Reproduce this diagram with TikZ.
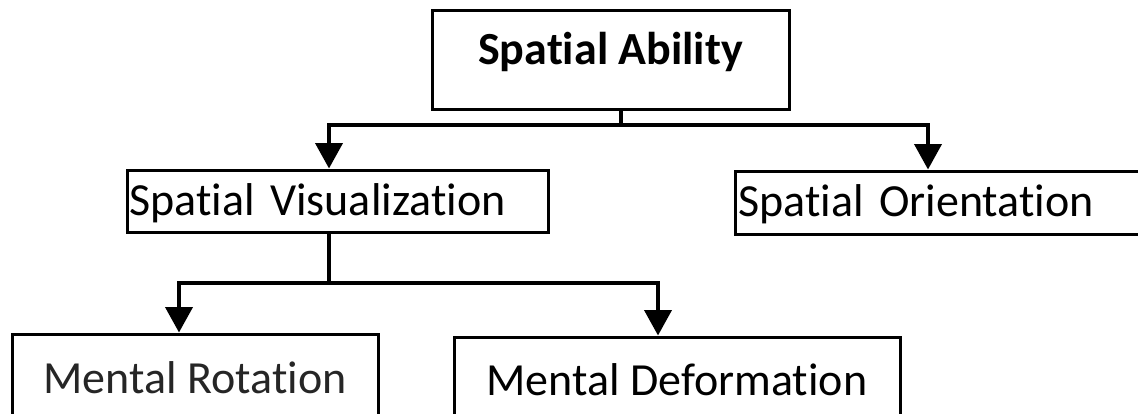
\documentclass[tikz,border=0pt]{standalone}
\usepackage{fontspec}
\setmainfont{Carlito}[Ligatures={NoCommon,NoRare,NoDiscretionary}]
\usetikzlibrary{arrows.meta}
\tikzset{
  box/.style={draw=black, line width=3pt, rectangle, inner ysep=0pt, inner xsep=0pt,
    font=\fontsize{46}{55}\selectfont, text height=29.6pt},
  conn/.style={line width=4pt, line join=miter},
  arr/.style={conn, -{Triangle[length=25.5pt,width=27pt]}}
}
\begin{document}
\begin{tikzpicture}[x=1pt,y=-1pt]
\fill[white] (0,0) rectangle (1138,413);
\useasboundingbox (0,0) rectangle (1138,413);
\node[box, minimum width=357pt, minimum height=99pt, text depth=20.6pt, font=\fontsize{46}{55}\selectfont\bfseries] (top) at (610.5,59.5) {Spatial Ability};
\node[box, minimum width=421pt, minimum height=62pt, text depth=0pt, inner xsep=2.5pt, text width=416pt, align=left] (sv) at (337.5,201) {Spatial Visualization};
\node[box, minimum width=407pt, minimum height=63pt, text depth=2.6pt, inner xsep=3.5pt, text width=400pt, align=left] (so) at (938.5,202.5) {Spatial Orientation};
\node[box, minimum width=366pt, minimum height=116pt, text depth=27.6pt, text=black!85] (mr) at (195,392) {Mental Rotation};
\node[box, minimum width=446pt, minimum height=113pt, text depth=26.6pt] (md) at (677,393.5) {Mental Deformation};
\coordinate (b1) at (621,125);
\coordinate (b1l) at (329,125);
\coordinate (b1r) at (928,125);
\coordinate (b2) at (329,283);
\coordinate (b2l) at (179,283);
\coordinate (b2r) at (658,283);
\draw[conn] (top.south -| b1) -- (b1);
\draw[arr] (b1) -- (b1l) -- (b1l |- sv.north);
\draw[arr] (b1) -- (b1r) -- (b1r |- so.north);
\draw[conn] (sv.south -| b2) -- (b2);
\draw[arr] (b2) -- (b2l) -- (b2l |- mr.north);
\draw[arr] (b2) -- (b2r) -- (b2r |- md.north);
\end{tikzpicture}
\end{document}
